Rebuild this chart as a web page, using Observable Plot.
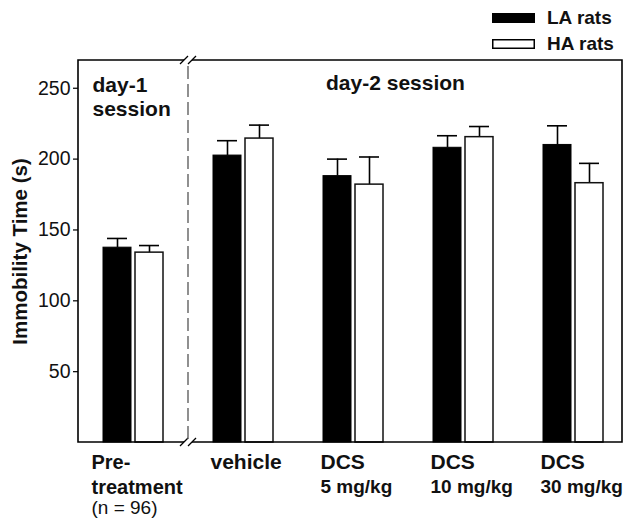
<!DOCTYPE html>
<html><head><meta charset="utf-8">
<script src="https://cdn.jsdelivr.net/npm/d3@7"></script>
<script src="https://cdn.jsdelivr.net/npm/@observablehq/plot@0.6"></script>
<style>
body{margin:0;background:#fff;font-family:"Liberation Sans",Arial,sans-serif;}
#wrap{position:relative;width:624px;height:519px;}
#legend{position:absolute;left:0;top:0;}
</style></head><body><div id="wrap"></div>
<script>
// ---- data ----
const groups = ["Pre-treatment", "vehicle", "DCS 5 mg/kg", "DCS 10 mg/kg", "DCS 30 mg/kg"];
const labelLine1 = ["Pre-", "vehicle", "DCS", "DCS", "DCS"];
const labelLine2 = ["treatment", "", "5 mg/kg", "10 mg/kg", "30 mg/kg"];
const labelLine3 = ["(n = 96)", "", "", "", ""];
const series = ["LA rats", "HA rats"];
const laMean = [137.5, 202.5, 188, 208, 210];
const laSem  = [6.5, 10.5, 12, 8.5, 13.5];
const haMean = [134, 214.5, 182, 215.5, 183];
const haSem  = [5, 9.5, 19.5, 7.5, 14];
const yTicks = [50, 100, 150, 200, 250];
const sessionLabels = ["day-1\nsession", "day-2 session"];
const yLabel = "Immobility Time (s)";

const la = groups.map((g, i) => ({group: g, mean: laMean[i], sem: laSem[i]}));
const ha = groups.map((g, i) => ({group: g, mean: haMean[i], sem: haSem[i]}));
const labels = groups.map((g, i) => ({group: g, l1: labelLine1[i], l2: labelLine2[i], l3: labelLine3[i]}));
const firstLabel = labels.slice(0, 1);
const otherLabels = labels.slice(1);

// frame with axis breaks between the day-1 and day-2 sessions
function brokenFrame(index, scales, values, dims) {
  const x = scales.x;
  const bw = typeof x.bandwidth === "function" ? x.bandwidth() : (x.bandwidth || 0);
  const bx = (x(groups[0]) + x(groups[1])) / 2 + bw / 2;
  const L = dims.marginLeft, R = dims.width - dims.marginRight;
  const T = dims.marginTop, B = dims.height - dims.marginBottom;
  const g = d3.create("svg:g").attr("fill", "none");
  const gap = 4;
  g.append("path").attr("stroke", "#000").attr("stroke-width", 1.6)
    .attr("d", `M${bx - gap},${T}H${L}V${B}H${bx - gap}M${bx + gap},${B}H${R}V${T}H${bx + gap}`);
  for (const y of [T, B]) {
    for (const sx of [bx - gap, bx + gap]) {
      g.append("path").attr("stroke", "#000").attr("stroke-width", 1.2)
        .attr("d", `M${sx - 4},${y + 4}L${sx + 4},${y - 4}`);
    }
  }
  g.append("path").attr("stroke", "#555").attr("stroke-width", 1.3)
    .attr("stroke-dasharray", "13,5")
    .attr("d", `M${bx},${T + 6}V${B - 2}`);
  return g.node();
}

const font = "'Liberation Sans', Arial, sans-serif";
const chart = Plot.plot({
  width: 624,
  height: 519,
  marginTop: 60,
  marginBottom: 77,
  marginLeft: 78,
  marginRight: 2,
  style: {fontFamily: font, fontSize: "19px", color: "#111", background: "white"},
  x: {domain: groups, range: [78, 628], padding: 0, axis: null},
  y: {domain: [0, 269.6]},
  marks: [
    Plot.axisY(yTicks, {tickSize: 5, tickPadding: 3, fontSize: 19.5, label: null, strokeWidth: 1.3}),
    Plot.ruleX(la, {x: "group", y1: "mean", y2: d => d.mean + d.sem, dx: -16, stroke: "#000", strokeWidth: 1.6}),
    Plot.tickY(la, {x: "group", y: d => d.mean + d.sem, insetLeft: 29, insetRight: 61, stroke: "#000", strokeWidth: 1.6}),
    Plot.ruleX(ha, {x: "group", y1: "mean", y2: d => d.mean + d.sem, dx: 16, stroke: "#000", strokeWidth: 1.6}),
    Plot.tickY(ha, {x: "group", y: d => d.mean + d.sem, insetLeft: 61, insetRight: 29, stroke: "#000", strokeWidth: 1.6}),
    Plot.barY(la, {x: "group", y: "mean", fill: "#000", stroke: "#000", strokeWidth: 1, insetLeft: 25, insetRight: 57}),
    Plot.barY(ha, {x: "group", y: "mean", fill: "#fff", stroke: "#111", strokeWidth: 1.5, insetLeft: 57, insetRight: 25}),
    brokenFrame,
    // x category labels
    Plot.text(firstLabel, {x: "group", text: "l1", frameAnchor: "bottom", lineAnchor: "middle", dy: 19.6, dx: -42, textAnchor: "start", fontWeight: "bold", fontSize: 20}),
    Plot.text(firstLabel, {x: "group", text: "l2", frameAnchor: "bottom", lineAnchor: "middle", dy: 44.6, dx: -42, textAnchor: "start", fontWeight: "bold", fontSize: 20}),
    Plot.text(firstLabel, {x: "group", text: "l3", frameAnchor: "bottom", lineAnchor: "middle", dy: 65.5, dx: -42, textAnchor: "start", fontWeight: "normal", fontSize: 19}),
    Plot.text(otherLabels, {x: "group", text: "l1", frameAnchor: "bottom", lineAnchor: "middle", dy: 19.6, dx: -33, textAnchor: "start", fontWeight: "bold", fontSize: 21}),
    Plot.text(otherLabels, {x: "group", text: "l2", frameAnchor: "bottom", lineAnchor: "middle", dy: 44.9, dx: -33, textAnchor: "start", fontWeight: "bold", fontSize: 19}),
    // session labels
    Plot.text([sessionLabels[0]], {frameAnchor: "top-left", dx: 14, dy: 14.5, lineAnchor: "top", textAnchor: "start", fontWeight: "bold", fontSize: 21, lineHeight: 1.15}),
    Plot.text([sessionLabels[1]], {frameAnchor: "top", dx: 45, dy: 14.5, lineAnchor: "top", textAnchor: "middle", fontWeight: "bold", fontSize: 21}),
    // y axis title
    Plot.text([yLabel], {frameAnchor: "left", dx: -58, rotate: -90, textAnchor: "middle", lineAnchor: "middle", fontWeight: "bold", fontSize: 20.5})
  ]
});

const wrap = document.getElementById("wrap");
wrap.appendChild(chart);

// legend (above the chart, top right)
const legend = d3.create("svg").attr("id", "legend").attr("width", 624).attr("height", 56)
  .style("font-family", font);
series.forEach((s, i) => {
  const y0 = 13 + i * 26;
  legend.append("rect").attr("x", 492.75).attr("y", y0 + 0.75).attr("width", 41.5).attr("height", 8.5)
    .attr("fill", i === 0 ? "#000" : "#fff").attr("stroke", "#000").attr("stroke-width", 1.5);
  legend.append("text").attr("x", 547).attr("y", y0 + 11).attr("font-weight", "bold").attr("font-size", 19)
    .attr("fill", "#111").text(s);
});
wrap.appendChild(legend.node());
</script>
</body></html>
